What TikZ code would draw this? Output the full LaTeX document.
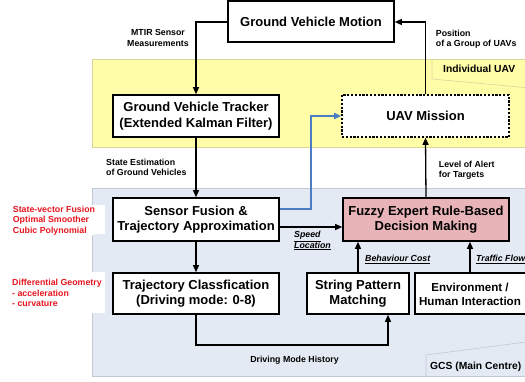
\documentclass[tikz,border=0pt]{standalone}
\usepackage{fontspec}
\setmainfont{Liberation Sans}
\usetikzlibrary{arrows.meta}
\definecolor{bandY}{HTML}{FFFDA8}
\definecolor{bandYline}{HTML}{D9D69C}
\definecolor{bandB}{HTML}{E4EAF4}
\definecolor{bandBline}{HTML}{C3C9D4}
\definecolor{pinkbox}{HTML}{E8B4B8}
\definecolor{bluearr}{HTML}{4A7DC4}
\definecolor{redtxt}{HTML}{E8141E}
\begin{document}
\begin{tikzpicture}[x=1pt,y=-1pt,
  box/.style={draw=black, line width=1.6pt, fill=white, inner sep=0pt, align=center,
    font=\fontsize{13}{15.5}\selectfont\bfseries},
  lbl/.style={inner sep=0pt, font=\fontsize{8.8}{10.5}\selectfont\bfseries},
  ulbl/.style={inner sep=0pt, font=\fontsize{8.8}{10.5}\selectfont\bfseries\itshape},
  redlbl/.style={fill=white, text=redtxt, inner sep=0pt, align=left,
    font=\fontsize{8.8}{10.5}\selectfont\bfseries},
  tablbl/.style={inner sep=0pt, font=\fontsize{10.3}{12}\selectfont\bfseries},
  arr/.style={line width=1.3pt, -{Triangle[length=7pt,width=6pt]}},
  barr/.style={line width=1.6pt, draw=bluearr, -{Triangle[length=7pt,width=6pt]}, color=bluearr},
]
\useasboundingbox (0,0) rectangle (525,381);
% bands
\path[fill=bandY, draw=bandYline, line width=0.6pt] (92,59.5) rectangle (530,147);
\path[fill=bandB, draw=bandBline, line width=0.6pt] (92,188.5) rectangle (530,376);
\draw[bandYline, line width=0.6pt] (432,59.5) -- (432,79) -- (530,88);
\draw[bandBline, line width=0.6pt] (426,376) -- (426,355) -- (530,341.5);
\node[tablbl, anchor=base west] (indiv) at (443,72.5) {Individual UAV};
\node[tablbl, anchor=base west] (gcs) at (430,369) {GCS (Main Centre)};

% red side labels
\node[redlbl, minimum width=97pt, minimum height=29pt] (rl1) at (56.5,219.5) {};
\node[redlbl, anchor=base west] (rl1t) at (12.7,233) {State-vector Fusion\\Optimal Smoother\\Cubic Polynomial};
\node[redlbl, minimum width=97pt, minimum height=41pt] (rl2) at (56.5,292.5) {};
\node[redlbl, anchor=base west] (rl2t) at (12,306.5) {Differential Geometry\\- acceleration\\- curvature};

% boxes
\node[box, minimum width=166pt, minimum height=41pt] (gvm) at (311,21.5) {Ground Vehicle Motion};
\node[box, minimum width=166pt, minimum height=42pt] (trk) at (196,116) {Ground Vehicle Tracker\\(Extended Kalman Filter)};
\node[box, dash pattern=on 2.2pt off 1.6pt, minimum width=167pt, minimum height=42pt] (uav) at (425.5,116) {UAV Mission};
\node[box, minimum width=166pt, minimum height=43pt] (sf) at (196,219.5) {Sensor Fusion \&\\Trajectory Approximation};
\node[box, fill=pinkbox, minimum width=166pt, minimum height=43pt] (fz) at (426,219.5) {Fuzzy Expert Rule-Based\\Decision Making};
\node[box, minimum width=166pt, minimum height=41pt] (tc) at (196,293.5) {Trajectory Classfication\\(Driving mode: 0-8)};
\node[box, minimum width=102pt, minimum height=41pt] (spm) at (358,293.5) {String Pattern\\Matching};
\node[box, minimum width=115pt, minimum height=41pt] (env) at (472.5,293.5) {};
\node[inner sep=0pt, align=center, font=\fontsize{11.6}{14}\selectfont\bfseries] (envt) at (470,294) {Environment /\\Human Interaction};

% connectors
\coordinate (c1) at (196,22);
\draw[arr] (gvm.west |- c1) -- (c1) -- (trk.north);
\coordinate (c2) at (425.5,22);
\draw[arr] (uav.north) -- (c2) -- (gvm.east |- c2);
\draw[arr] (trk.south) -- (sf.north);
\draw[arr] (sf.south) -- (tc.north);
\coordinate (c3) at (300,227);
\draw[arr] (sf.east |- c3) -- (fz.west |- c3);
\coordinate (c4) at (311,209);
\coordinate (c5) at (311,116);
\draw[barr] (sf.east |- c4) -- (c4) -- (c5) -- (uav.west);
\draw[arr] (fz.north) -- (uav.south);
\draw[arr] (spm.north) -- (spm.north |- fz.south);
\draw[arr] (envt |- env.north) -- (envt |- fz.south);
\coordinate (c6) at (388,345);
\draw[arr] (tc.south) |- (c6) -- (c6 |- spm.south);

% connector labels
\node[lbl, anchor=base, align=center] (l1) at (158,46) {MTIR Sensor\\Measurements};
\node[lbl, anchor=base west, align=left] (l2) at (435.7,46.5) {Position\\of a Group of UAVs};
\node[lbl, anchor=base west, align=left] (l3) at (106,175.5) {State Estimation\\of Ground Vehicles};
\node[lbl, anchor=base west, align=left] (l4) at (438.7,177.7) {Level of Alert\\for Targets};
\node[ulbl, anchor=base west, align=left] (l5) at (294,248) {\underline{Speed}\\\underline{Location}};
\node[ulbl, anchor=base west] (l6) at (365,261.5) {\underline{Behaviour Cost}};
\node[ulbl, anchor=base west] (l7) at (476,261.5) {\underline{Traffic Flow}};
\node[lbl, anchor=base] (l8) at (294.5,362.5) {Driving Mode History};
\end{tikzpicture}
\end{document}
